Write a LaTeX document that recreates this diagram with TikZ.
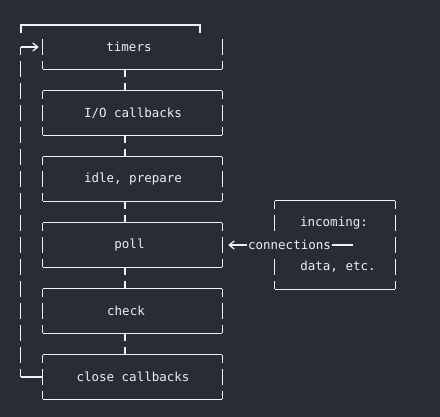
\documentclass[tikz,border=0pt]{standalone}
\usepackage{fontspec}
\setmonofont{DejaVu Sans Mono}
\usepackage{xcolor}
\usepackage{tikz}
\usetikzlibrary{positioning, arrows.meta, calc}
\definecolor{bgdark}{HTML}{282C34}
\definecolor{linewhite}{HTML}{F2F2F2}
\definecolor{textgrey}{HTML}{ECEEF2}

\begin{document}
\begin{tikzpicture}[
    x=1pt, y=-1pt,
    font=\ttfamily\fontsize{12.5}{14}\selectfont,
    phasebox/.style={rectangle, minimum width=179pt, minimum height=44pt, inner sep=0pt},
    phasetext/.style={text=textgrey, inner sep=0pt},
    outline/.style={draw=linewhite, line width=1.3pt},
    vbar/.style={outline, dash pattern=on 16pt off 6pt, dash phase=8pt},
    flowarrow/.style={outline, -{Straight Barb[length=5pt, width=8pt]}}
]
\fill[bgdark] (0,0) rectangle (440,417);

% phases of the loop
\foreach \name/\txt/\y/\tx in {timers/timers/47/129, io/{I/O callbacks}/113/133,
    idle/{idle, prepare}/179/133, poll/poll/245/129.5, check/check/311/126,
    close/{close callbacks}/377/133} {
  \node[phasebox] (\name) at (132.5,\y) {};
  \node[phasetext] (\name-txt) at (\tx,\y) {\txt};
  \draw[outline] (\name.south west) -- (\name.south east);
}
\foreach \name in {io, idle, poll, check, close} {
  \draw[outline] (\name.north west) -- (\name.north east);
  \draw[vbar] (\name.north west) -- (\name.south west);
  \draw[vbar] (\name.north east) -- (\name.south east);
}
\draw[vbar, dash phase=0pt] ([yshift=8pt]timers.west) -- (timers.south west);
\draw[vbar, dash phase=0pt] ([yshift=8pt]timers.east) -- (timers.south east);

% links between phases
\foreach \a/\b in {timers/io, io/idle, idle/poll, poll/check, check/close}
  \draw[vbar] ([xshift=-7.5pt]\a.south) -- ([xshift=-7.5pt]\b.north);

% loop back
\coordinate (loop-in) at ($(timers.west)+(-22,0)$);
\coordinate (loop-out) at ($(close.west)+(-22,0)$);
\draw[outline] (21,33) -- (21,25) -- (200,25) -- (200,33);
\draw[vbar] (loop-in) -- (loop-out);
\draw[flowarrow] (loop-in) -- ([xshift=-4pt]timers.west);
\draw[outline] (loop-out) -- (close.west);

% incoming connections
\node[phasebox, minimum width=120pt, minimum height=88pt] (incoming) at (335,245) {};
\node[phasetext] (incoming-top) at (334,223) {incoming:};
\node[phasetext] (incoming-bot) at (338,267) {data, etc.};
\draw[outline] (incoming.north west) -- (incoming.north east);
\draw[outline] (incoming.south west) -- (incoming.south east);
\draw[vbar] (incoming.north east) -- (incoming.south east);
\draw[vbar] (incoming.north west) -- ++(0,30);
\draw[vbar, dash phase=0pt] ([yshift=-14pt]incoming.west) -- (incoming.south west);

\node[phasetext, inner xsep=1pt] (conn) at (289.5,245) {connections};
\coordinate (conn-end) at (353,245);
\draw[flowarrow, shorten >=6pt] (conn.west) -- (poll.east);
\draw[outline] (conn.east) -- (conn-end);
\end{tikzpicture}
\end{document}
